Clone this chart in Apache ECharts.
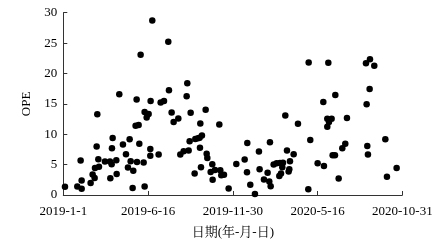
<!DOCTYPE html>
<html>
<head>
<meta charset="utf-8">
<script src="https://cdn.jsdelivr.net/npm/echarts@6/dist/echarts.min.js"></script>
<style>html,body{margin:0;padding:0;background:#fff;}#c{width:445px;height:244px;}</style>
</head>
<body>
<div id="c"></div>
<script>
// Days since 2019-01-01
var dayOffsets = [3.3,27.6,36.2,34.2,36.2,53.9,57.9,61.8,62.5,65.8,
67.1,69.1,70.4,82.2,92.1,92.8,95.4,96.0,97.4,104.6,
105.3,110.5,117.7,123.7,127.6,130.9,132.9,136.8,138.1,142.7,
144.7,145.4,148.7,150.0,152.6,158.5,160.5,160.5,164.5,168.4,
171.7,171.7,172.3,175.6,188.1,192.1,198.7,207.2,208.5,213.8,
217.7,227.0,230.9,237.5,243.4,244.7,247.3,249.3,251.3,259.2,
260.5,265.8,269.0,270.4,269.7,271.7,273.6,280.9,282.9,284.2,
290.8,294.0,294.7,299.3,307.9,309.8,311.8,317.1,326.3,341.4,
357.9,362.5,363.1,369.0,378.2,386.1,387.4,396.0,403.2,407.8,
406.5,409.2,415.1,421.0,427.6,426.3,429.6,432.2,433.5,438.1,
441.4,444.7,447.3,446.0,454.6,463.1,483.5,484.2,487.4,501.9,
513.1,514.4,521.0,521.0,523.0,524.3,529.5,531.5,536.1,536.8,
543.4,550.6,556.5,559.8,597.3,598.6,599.9,601.2,604.5,605.2,
613.7,635.5,638.7,657.8];
var opeValues = [1.35,1.41,1.04,5.68,2.40,1.98,3.39,2.81,4.43,7.97,
13.28,5.89,4.64,5.52,5.52,2.76,5.05,7.71,9.38,5.73,
3.44,16.56,8.33,6.72,4.53,9.17,5.57,1.15,4.01,11.41,
15.73,5.42,11.51,8.44,23.07,5.36,1.41,13.65,12.76,13.33,
6.46,7.55,15.47,28.70,6.67,15.21,15.47,25.21,17.24,13.59,
12.03,12.60,6.67,7.19,16.25,18.39,7.34,8.85,13.54,3.54,
9.22,9.32,9.43,11.77,7.76,4.58,9.79,14.01,6.77,6.09,
3.80,5.05,2.50,4.11,11.61,4.06,3.23,3.33,1.09,5.10,
5.83,3.75,8.54,1.67,0.16,7.14,4.22,2.55,3.65,8.70,
2.24,1.46,5.00,5.21,5.26,3.13,3.54,4.58,5.31,13.07,
7.34,3.85,5.57,4.22,6.72,11.72,0.94,21.82,9.06,5.21,
15.31,4.79,12.55,11.25,21.77,12.03,12.55,6.56,6.56,16.46,
2.71,7.71,8.44,12.66,21.67,14.95,8.07,6.67,17.45,22.34,
21.25,9.17,3.02,4.43];
var xTickLabels = ['2019-1-1','2019-6-16','2019-11-30','2020-5-16','2020-10-31'];
var xSpanDays = 669;
var xTickStep = xSpanDays / 4;
var xAxisName = '日期(年-月-日)';
var yAxisName = 'OPE';

var points = dayOffsets.map(function (d, i) { return [d, opeValues[i]]; });
var font = '"Liberation Serif","Times New Roman","Noto Serif CJK SC","Noto Sans CJK SC",serif';
var axisColor = '#333';

var chart = echarts.init(document.getElementById('c'), null, {renderer: 'canvas'});
chart.setOption({
  animation: false,
  backgroundColor: '#fff',
  grid: {left: 63.3, right: 42.7, top: 12.7, bottom: 39.3, containLabel: false},
  xAxis: {
    type: 'value', min: 0, max: xSpanDays, interval: xTickStep,
    name: xAxisName, nameLocation: 'middle', nameGap: 31,
    nameTextStyle: {fontFamily: font, fontSize: 13, color: '#000'},
    axisLine: {show: true, lineStyle: {color: axisColor, width: 1}},
    axisTick: {show: true, inside: true, length: 4, lineStyle: {color: axisColor}},
    axisLabel: {
      margin: 10, fontFamily: font, fontSize: 13, color: '#000',
      formatter: function (v) { return xTickLabels[Math.round(v / xTickStep)] || ''; }
    },
    splitLine: {show: false}
  },
  yAxis: {
    type: 'value', min: 0, max: 30, interval: 5,
    name: yAxisName, nameLocation: 'middle', nameGap: 18,
    nameTextStyle: {fontFamily: font, fontSize: 13, color: '#000'},
    axisLine: {show: true, lineStyle: {color: axisColor, width: 1}},
    axisTick: {show: true, inside: true, length: 4, lineStyle: {color: axisColor}},
    axisLabel: {margin: 6, fontFamily: font, fontSize: 13, color: '#000'},
    splitLine: {show: false}
  },
  series: [{
    type: 'scatter',
    data: points,
    symbol: 'circle',
    symbolSize: 6.5,
    itemStyle: {color: '#000', opacity: 1}
  }]
});
</script>
</body>
</html>
